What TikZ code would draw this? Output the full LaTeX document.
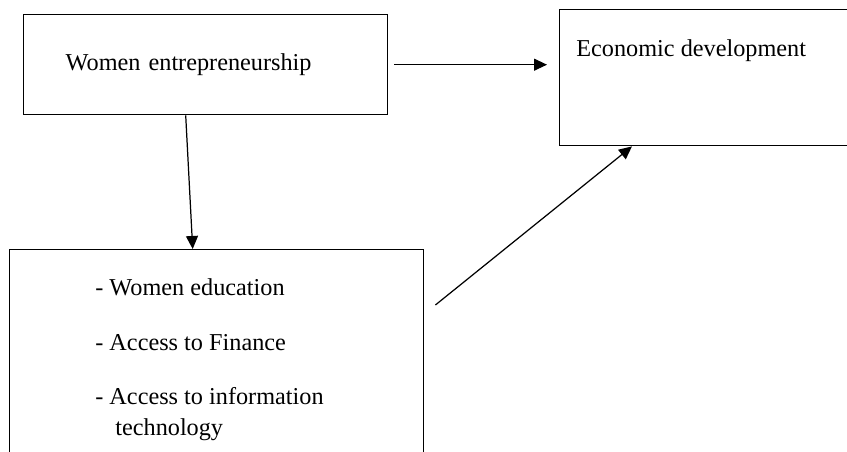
\documentclass[tikz,border=0pt]{standalone}
\usepackage{fontspec}
\setmainfont{Liberation Serif}
\usetikzlibrary{
    positioning,
    arrows.meta,
    calc
}

\tikzset{
    blockbox/.style={draw, rectangle, line width=0.8pt, inner sep=0pt},
    blocktext/.style={font=\fontsize{13.8}{17.6}\selectfont, inner sep=0pt},
    flowarrow/.style={-{Triangle[length=0.26cm, width=0.24cm]}, line width=0.7pt}
}

\begin{document}
\begin{tikzpicture}
                % 描画範囲
                \useasboundingbox (0, 0) rectangle (16.94, 9.04);
                \clip (0, 0) rectangle (16.94, 9.04);
                
                % 上段の枠
                \node[blockbox, blocktext, anchor=north west, minimum height=2cm,
                      text width=5.6cm, inner xsep=0.84cm, align=left]
                      (entre) at (0.46, 8.76) {Women entrepreneurship};
                \node[blockbox, anchor=north west, minimum width=6.42cm, minimum height=2.72cm]
                      (econ) at (11.18, 8.86) {};
                \node[blocktext, anchor=base west] (econtext)
                      at ([shift={(0.34, -0.96)}]econ.north west) {Economic development};
                
                % 下段の枠 (下端は範囲外)
                \node[blockbox, anchor=north west, minimum width=8.28cm, minimum height=4.42cm]
                      (factors) at (0.18, 4.06) {};
                \node[blocktext, anchor=north west, align=left] (factortext)
                      at ([shift={(1.72, -0.59)}]factors.north west)
                      {- Women education\\[0.47cm]
                       - Access to Finance\\[0.47cm]
                       - Access to information\\
                       \hspace*{0.4cm}technology};
                
                % 矢印
                \draw[flowarrow, shorten <=0.12cm, shorten >=0.24cm]
                      (entre.east) -- (entre.east -| econ.west);
                \draw[flowarrow] ([xshift=-0.4cm]entre.south) -- ([xshift=-0.48cm]factors.north);
                \draw[flowarrow] ([shift={(0.22, -1.12)}]factors.north east) -- ([xshift=1.46cm]econ.south west);
            \end{tikzpicture}
\end{document}
